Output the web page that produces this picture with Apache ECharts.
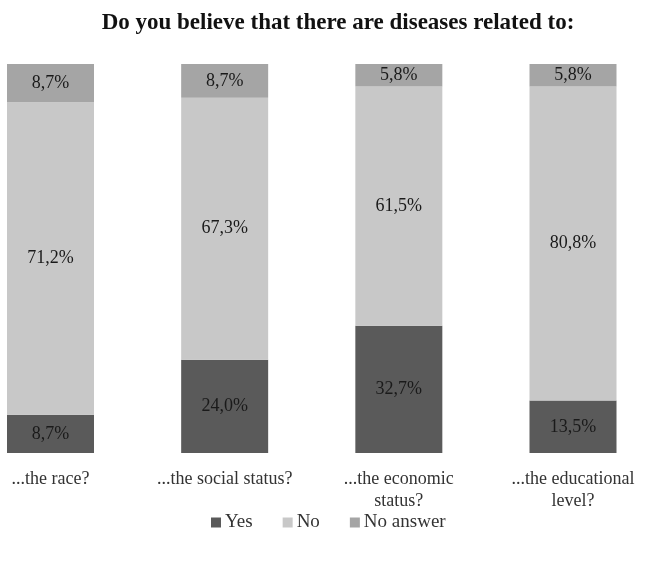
<!DOCTYPE html>
<html>
<head>
<meta charset="utf-8">
<script src="https://cdn.jsdelivr.net/npm/echarts@6/dist/echarts.min.js"></script>
<style>
  html, body { margin: 0; padding: 0; background: #fff; }
  #chart { width: 645px; height: 562px; }
</style>
</head>
<body>
<div id="chart"></div>
<script>
// Survey answers, percent of respondents per question
const categories = ['...the race?', '...the social status?', '...the economic\nstatus?', '...the educational\nlevel?'];
const yesValues = [8.7, 24.0, 32.7, 13.5];
const noValues = [71.2, 67.3, 61.5, 80.8];
const noAnswerValues = [8.7, 8.7, 5.8, 5.8];

const seriesNames = ['Yes', 'No', 'No answer'];
const seriesColors = ['#5a5a5a', '#c8c8c8', '#a5a5a5'];
const raw = [yesValues, noValues, noAnswerValues];

// 100% stacked: each column is scaled to its own total
const totals = categories.map((_, i) => raw.reduce((s, arr) => s + arr[i], 0));

const fontFamily = '"Liberation Serif", "DejaVu Serif", serif';

const series = raw.map((arr, k) => ({
  name: seriesNames[k],
  type: 'bar',
  stack: 'total',
  barWidth: 87,
  clip: false,
  itemStyle: { color: seriesColors[k] },
  label: {
    show: true,
    position: 'inside',
    color: '#1a1a1a',
    fontFamily: fontFamily,
    fontSize: 18,
    formatter: p => arr[p.dataIndex].toFixed(1).replace('.', ',') + '%'
  },
  data: arr.map((v, i) => v / totals[i] * 100)
}));

const chart = echarts.init(document.getElementById('chart'));
chart.setOption({
  animation: false,
  title: {
    text: 'Do you believe that there are diseases related to:',
    left: 333,
    textAlign: 'center',
    top: 7,
    textStyle: { fontFamily: fontFamily, fontSize: 23, fontWeight: 'bold', color: '#111' }
  },
  legend: {
    bottom: 25,
    left: 206,
    itemWidth: 10,
    itemHeight: 10,
    itemGap: 30,
    icon: 'rect',
    textStyle: { fontFamily: fontFamily, fontSize: 19, color: '#333', padding: [0, 0, 0, -1] },
    data: seriesNames
  },
  // category ticks sit at the grid edges so the outer columns reach the page margins
  grid: { left: 50.5, right: 72, top: 64, bottom: 109, containLabel: false },
  xAxis: {
    type: 'category',
    data: categories,
    boundaryGap: false,
    axisLine: { show: false },
    axisTick: { show: false },
    axisLabel: {
      interval: 0,
      margin: 15,
      fontFamily: fontFamily,
      fontSize: 18,
      color: '#333',
      lineHeight: 22
    }
  },
  yAxis: {
    type: 'value',
    min: 0,
    max: 100,
    show: false
  },
  series: series
});
</script>
</body>
</html>
